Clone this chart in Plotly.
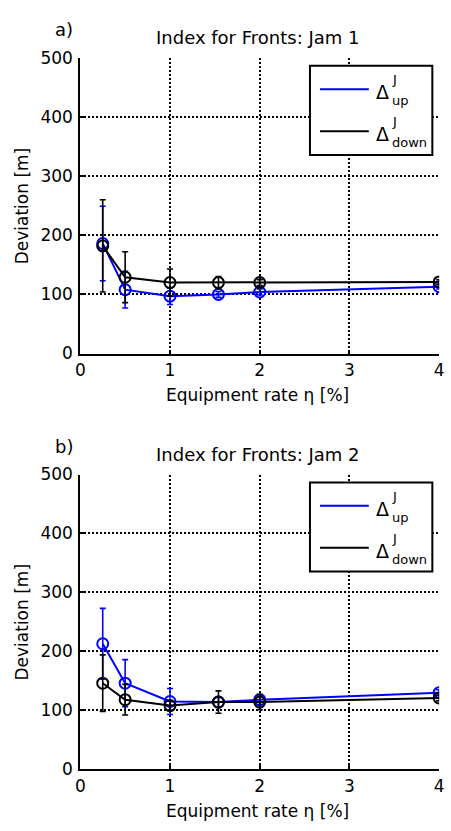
import plotly.graph_objects as go

# Equipment rate eta [%]
rates = [0.25, 0.5, 1.0, 1.54, 2.0, 4.0]

# Jam 1: mean deviation and spread for upstream / downstream fronts
jam1_up = [186, 108, 97, 100, 104, 113]
jam1_up_err = [63, 31, 14, 5, 5, 4]
jam1_down = [182, 129, 120, 120, 120, 121]
jam1_down_err = [78, 43, 23, 10, 5, 4]

# Jam 2
jam2_up = [213, 146, 115, 114, 118, 130]
jam2_up_err = [60, 40, 22, 8, 8, 5]
jam2_down = [146, 118, 108, 114, 114, 121]
jam2_down_err = [48, 26, 8, 19, 13, 5]

titles = ["Index for Fronts: Jam 1", "Index for Fronts: Jam 2"]
panel_tags = ["a)", "b)"]
x_ticks = [0, 1, 2, 3, 4]
y_ticks = [0, 100, 200, 300, 400, 500]

W, H = 451, 831
FONT = "DejaVu Sans, Liberation Sans, Arial, sans-serif"
BLUE = "#0000ff"
BLACK = "#000000"

# plot area boxes in pixels: (left, right, top, bottom)
boxes = [(77, 444, 49, 352), (77, 444, 476, 778)]

fig = go.Figure()

panels = [
    (jam1_up, jam1_up_err, jam1_down, jam1_down_err),
    (jam2_up, jam2_up_err, jam2_down, jam2_down_err),
]

for i, (up, up_e, dn, dn_e) in enumerate(panels):
    xa = "x" if i == 0 else "x2"
    ya = "y" if i == 0 else "y2"
    for vals, errs, col in ((up, up_e, BLUE), (dn, dn_e, BLACK)):
        fig.add_trace(go.Scatter(
            x=rates, y=vals, xaxis=xa, yaxis=ya, mode="lines+markers",
            line=dict(color=col, width=2),
            marker=dict(symbol="circle-open", size=11, color=col,
                        line=dict(width=2, color=col)),
            error_y=dict(type="data", array=errs, visible=True,
                         color=col, thickness=1.6, width=3),
            showlegend=False, hoverinfo="x+y",
        ))

annotations = []
shapes = []

for i, (l, r, t, b) in enumerate(boxes):
    sfx = "" if i == 0 else "2"
    xdom = [l / W, r / W]
    ydom = [1 - b / H, 1 - t / H]
    axis_common = dict(
        showline=True, linecolor=BLACK, linewidth=2, mirror=False,
        ticks="inside", ticklen=4, tickwidth=1.5, tickcolor=BLACK,
        tickfont=dict(family=FONT, size=17, color=BLACK),
        zeroline=False, fixedrange=True,
    )
    fig.update_layout(**{
        "xaxis" + sfx: dict(
            domain=xdom, range=[0, 4], tickmode="array", tickvals=x_ticks,
            showgrid=True, gridcolor=BLACK, gridwidth=1.5, griddash="2px,2px",
            anchor="y" + sfx, **axis_common),
        "yaxis" + sfx: dict(
            domain=ydom, range=[0, 500], tickmode="array", tickvals=y_ticks,
            showgrid=False, anchor="x" + sfx,
            minor=dict(tickmode="array", tickvals=[100, 200, 300, 400],
                       showgrid=True, gridcolor=BLACK, gridwidth=1.5,
                       griddash="2px,2px", ticks=""),
            ticklabelstandoff=2,
            **axis_common),
    })

    xref = "x" + sfx + " domain"
    yref = "y" + sfx + " domain"

    # title and panel tag
    annotations.append(dict(
        text=titles[i], x=(l + r) / 2 / W - 0.006, y=1 - (t - 21) / H,
        xref="paper", yref="paper", showarrow=False, xanchor="center",
        yanchor="middle", font=dict(family=FONT, size=18, color=BLACK)))
    annotations.append(dict(
        text=panel_tags[i], x=60 / W, y=1 - (t - 29) / H,
        xref="paper", yref="paper", showarrow=False, xanchor="center",
        yanchor="middle", font=dict(family=FONT, size=18, color=BLACK)))
    # axis titles
    annotations.append(dict(
        text="Equipment rate \u03b7 [%]", x=(l + r) / 2 / W - 0.006,
        y=1 - (b + 43) / H, xref="paper", yref="paper", showarrow=False,
        xanchor="center", yanchor="middle",
        font=dict(family=FONT, size=17, color=BLACK)))
    annotations.append(dict(
        text="Deviation [m]", x=17 / W, y=1 - (t + b) / 2 / H,
        xref="paper", yref="paper", showarrow=False, textangle=-90,
        xanchor="center", yanchor="middle",
        font=dict(family=FONT, size=17, color=BLACK)))

    # legend box
    shapes.append(dict(
        type="rect", xref=xref, yref=yref, x0=0.640, x1=0.981,
        y0=0.671, y1=0.973, line=dict(color=BLACK, width=2),
        fillcolor="white", layer="above"))
    for yl, col, sub in ((0.894, BLUE, "up"), (0.752, BLACK, "down")):
        shapes.append(dict(
            type="line", xref=xref, yref=yref, x0=0.668, x1=0.804,
            y0=yl, y1=yl, line=dict(color=col, width=2), layer="above"))
        annotations.append(dict(
            text="\u0394", x=0.818, y=yl - 0.010, xref=xref, yref=yref,
            showarrow=False, xanchor="left", yanchor="middle",
            font=dict(family=FONT, size=19, color=BLACK)))
        annotations.append(dict(
            text="J", x=0.862, y=yl + 0.032, xref=xref, yref=yref,
            showarrow=False, xanchor="left", yanchor="middle",
            font=dict(family=FONT, size=13, color=BLACK)))
        annotations.append(dict(
            text=sub, x=0.862, y=yl - 0.040, xref=xref, yref=yref,
            showarrow=False, xanchor="left", yanchor="middle",
            font=dict(family=FONT, size=13, color=BLACK)))

fig.update_layout(
    width=W, height=H, autosize=False,
    margin=dict(l=0, r=0, t=0, b=0),
    paper_bgcolor="white", plot_bgcolor="white",
    font=dict(family=FONT, color=BLACK),
    annotations=annotations, shapes=shapes, showlegend=False,
)

fig.write_html("out.html", config={"displayModeBar": False})
